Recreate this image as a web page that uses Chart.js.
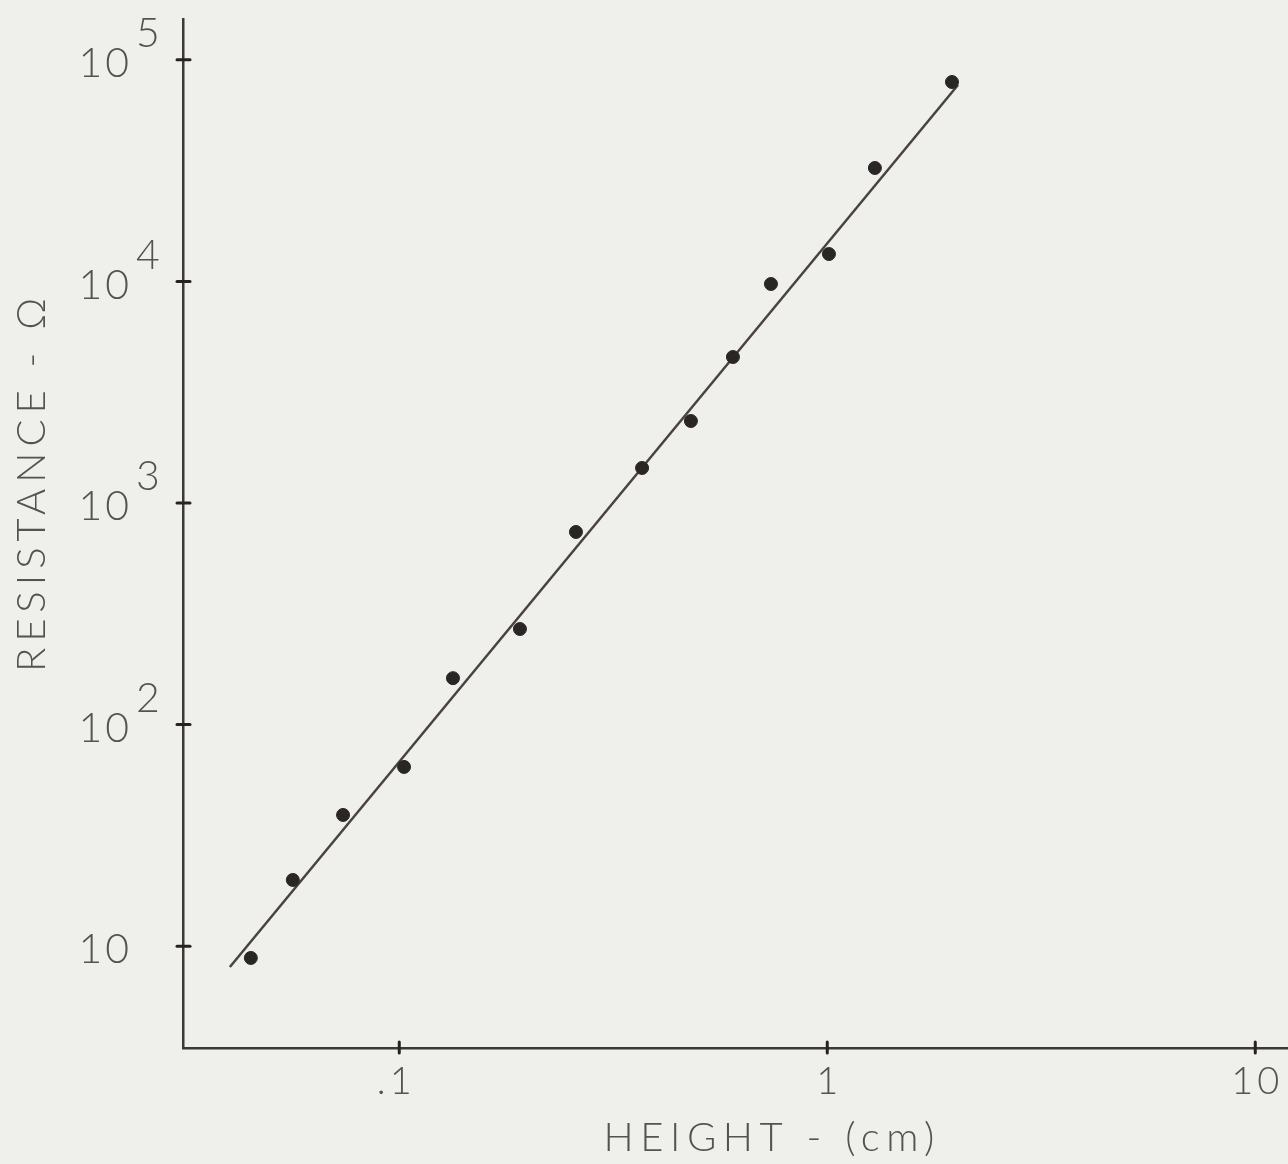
<!DOCTYPE html>
<html>
<head>
<meta charset="utf-8">
<script src="https://cdn.jsdelivr.net/npm/chart.js@4/dist/chart.umd.min.js"></script>
<style>
  html, body { margin: 0; padding: 0; background: #efefeb; }
  #chart { display: block; }
</style>
</head>
<body>
<canvas id="chart" width="1288" height="1164"></canvas>
<script>
// measured points, height (cm) vs resistance (ohm)
const heights = [0.0450, 0.0564, 0.0739, 0.1026, 0.1335, 0.1914, 0.2587, 0.3692, 0.4802, 0.602, 0.7386, 1.009, 1.292, 1.956]
const resistances = [8.85, 19.9, 39.1, 64.4, 162, 270, 740, 1439, 2344, 4558, 9734, 13290, 32490, 79400]

// hand-drawn fit line end points
const fitHeights = [0.0402, 2.02]
const fitResistances = [8.06, 76950]

const xTicks = [0.1, 1, 10]
const xTickLabels = ['.1', '1', '10']
const yTicks = [10, 100, 1000, 10000, 100000]
const yTickBase = ['10', '10', '10', '10', '10']
const yTickExp = ['', '2', '3', '4', '5']

const xTitle = 'HEIGHT - (cm)'
const yTitle = 'RESISTANCE - Ω'

const ink = '#3d3838'
const textColor = '#555352'
const fontFamily = 'Lato, "Open Sans", sans-serif'

const drawText = (ctx, text, x, y, align, spacing) => {
  ctx.letterSpacing = spacing + 'px'
  const w = ctx.measureText(text).width - spacing
  let sx = x
  if (align === 'center') sx = x - w / 2
  if (align === 'right') sx = x - w
  ctx.textAlign = 'left'
  ctx.fillText(text, sx, y)
}

const axisDecor = {
  id: 'axisDecor',
  afterDraw (chart) {
    const { ctx, chartArea, scales: { x, y } } = chart
    ctx.save()
    ctx.strokeStyle = '#262222'
    ctx.lineWidth = 3
    ctx.lineCap = 'round'
    yTicks.forEach(v => {
      const py = y.getPixelForValue(v)
      ctx.beginPath()
      ctx.moveTo(chartArea.left - 6, py)
      ctx.lineTo(chartArea.left + 7, py)
      ctx.stroke()
    })
    xTicks.forEach(v => {
      const px = x.getPixelForValue(v)
      ctx.beginPath()
      ctx.moveTo(px, chartArea.bottom - 6)
      ctx.lineTo(px, chartArea.bottom + 5)
      ctx.stroke()
    })

    ctx.fillStyle = textColor
    ctx.textBaseline = 'middle'
    ctx.font = '300 41px ' + fontFamily
    yTicks.forEach((v, i) => {
      const py = y.getPixelForValue(v)
      drawText(ctx, yTickBase[i], 129, py + 4, 'right', 3)
      if (yTickExp[i]) drawText(ctx, yTickExp[i], 136, py - 26, 'left', 0)
    })
    ctx.font = '300 38px ' + fontFamily
    xTicks.forEach((v, i) => {
      const px = x.getPixelForValue(v)
      drawText(ctx, xTickLabels[i], px - (i === 0 ? 5 : 0), 1082, 'center', 4)
    })

    ctx.font = '300 40px ' + fontFamily
    drawText(ctx, xTitle, 769, 1138, 'center', 6.5)
    ctx.translate(32, 485)
    ctx.rotate(-Math.PI / 2)
    drawText(ctx, yTitle, 0, 0, 'center', 6)
    ctx.restore()
  }
}

new Chart(document.getElementById('chart'), { // eslint-disable-line
  type: 'scatter',
  data: {
    datasets: [{
      data: heights.map((h, i) => ({ x: h, y: resistances[i] })),
      backgroundColor: '#2a2626',
      borderColor: '#2a2626',
      pointRadius: 6.5,
      showLine: false
    }, {
      type: 'line',
      data: fitHeights.map((h, i) => ({ x: h, y: fitResistances[i] })),
      borderColor: '#4a4242',
      borderWidth: 2.5,
      pointRadius: 0,
      fill: false
    }]
  },
  options: {
    responsive: false,
    animation: false,
    devicePixelRatio: 1,
    layout: { autoPadding: false, padding: { top: 19, right: 0, left: 0, bottom: 0 } },
    plugins: {
      legend: { display: false },
      tooltip: { enabled: false }
    },
    scales: {
      x: {
        type: 'logarithmic',
        min: 0.03124,
        max: 11.925,
        grid: { display: false },
        border: { display: true, color: ink, width: 2.5 },
        ticks: { display: false },
        afterFit: s => { s.height = 116 }
      },
      y: {
        type: 'logarithmic',
        min: 3.472,
        max: 152800,
        grid: { display: false },
        border: { display: true, color: ink, width: 2.5 },
        ticks: { display: false },
        afterFit: s => { s.width = 183 }
      }
    }
  },
  plugins: [axisDecor]
})
</script>
</body>
</html>
